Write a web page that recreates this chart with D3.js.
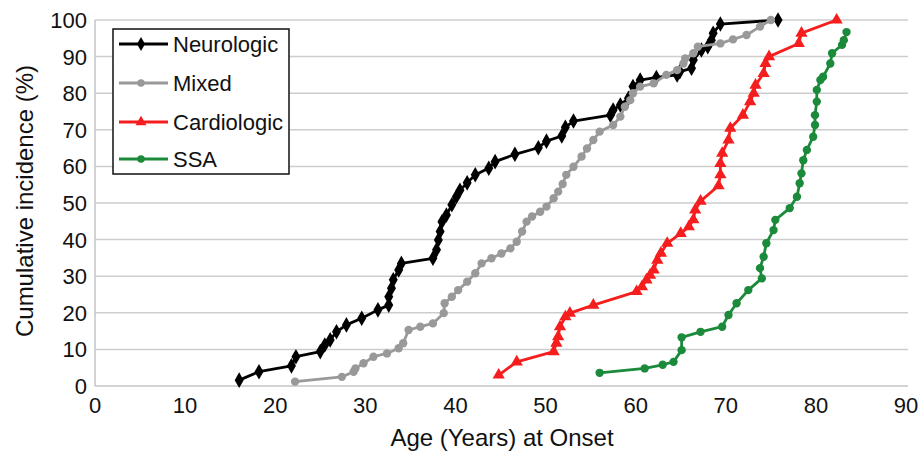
<!DOCTYPE html>
<html>
<head>
<meta charset="utf-8">
<script src="https://cdn.jsdelivr.net/npm/d3@7"></script>
<style>
  html, body { margin: 0; padding: 0; background: #fff; }
  svg { display: block; font-family: "Liberation Sans", Arial, Helvetica, sans-serif; }
</style>
</head>
<body>
<svg id="chart" width="923" height="452"></svg>
<script>
// ---- data (age at onset, cumulative incidence %) ----
const seriesNames = ["Neurologic", "Mixed", "Cardiologic", "SSA"];
const xTicks = [0, 10, 20, 30, 40, 50, 60, 70, 80, 90];
const yTicks = [0, 10, 20, 30, 40, 50, 60, 70, 80, 90, 100];

const neurologic = [
  [16.0, 1.6], [18.2, 3.9], [21.8, 5.5], [22.3, 8.0], [25.0, 9.4], [25.5, 11.2],
  [26.1, 12.6], [26.8, 14.8], [27.9, 16.7], [29.6, 18.5], [31.4, 20.8], [32.6, 22.1],
  [32.6, 24.4], [32.9, 26.7], [33.1, 29.0], [33.7, 31.7], [34.0, 33.5], [37.5, 34.9],
  [37.9, 37.2], [38.1, 39.9], [38.3, 42.2], [38.5, 44.9], [39.0, 46.7], [39.6, 49.5],
  [40.1, 51.7], [40.5, 53.5], [41.3, 55.5], [42.2, 57.7], [43.7, 59.5], [44.4, 61.3],
  [46.6, 63.3], [49.2, 65.1], [50.1, 66.9], [51.8, 68.3], [52.2, 70.7], [53.1, 72.4],
  [57.2, 74.0], [57.5, 75.4], [58.3, 76.8], [59.2, 78.6], [59.7, 81.8], [60.5, 83.6],
  [62.3, 84.3], [64.6, 85.0], [64.9, 85.9], [66.2, 86.8], [66.4, 89.1], [67.3, 91.8],
  [68.0, 92.7], [68.4, 94.5], [68.6, 96.4], [69.4, 98.9], [75.8, 100]
];

const mixed = [
  [22.2, 1.2], [27.4, 2.5], [28.7, 3.9], [28.9, 4.8], [29.8, 6.2], [30.9, 8.0],
  [32.4, 8.9], [33.7, 10.3], [34.2, 11.7], [34.8, 15.3], [36.1, 16.2], [37.5, 17.1],
  [38.7, 19.9], [38.8, 22.6], [39.6, 24.4], [40.3, 26.2], [41.3, 28.5], [42.2, 30.8],
  [42.9, 33.5], [44.0, 34.9], [45.1, 36.2], [46.1, 37.6], [46.8, 39.4], [47.4, 42.2],
  [47.9, 44.9], [48.5, 46.3], [49.4, 47.6], [50.1, 49.0], [50.9, 51.3], [51.4, 53.1],
  [51.9, 55.2], [52.3, 57.7], [53.1, 59.9], [54.0, 62.7], [54.6, 64.9], [55.3, 67.2],
  [56.0, 69.5], [57.5, 71.3], [58.3, 73.6], [58.8, 76.3], [59.4, 78.1], [59.7, 80.0],
  [60.5, 81.8], [62.0, 82.7], [63.4, 85.0], [64.6, 86.3], [65.3, 88.1], [65.5, 89.5],
  [66.4, 90.9], [66.9, 92.7], [69.4, 93.6], [70.8, 94.7], [72.3, 95.9], [73.8, 98.2],
  [75.0, 100]
];

const cardiologic = [
  [44.8, 3.0], [46.8, 6.6], [50.9, 9.4], [51.2, 11.7], [51.4, 13.5], [51.6, 16.2],
  [52.2, 18.9], [52.7, 19.9], [55.3, 22.1], [60.1, 25.8], [60.7, 27.1], [61.2, 29.0],
  [61.6, 30.3], [62.0, 31.7], [62.4, 34.4], [62.8, 36.3], [63.5, 39.0], [65.0, 41.7],
  [65.9, 43.5], [66.4, 45.4], [66.6, 48.1], [67.2, 50.5], [69.2, 54.7], [69.4, 57.7],
  [69.4, 60.8], [69.6, 63.6], [70.3, 67.2], [70.5, 70.4], [71.9, 74.0], [72.7, 77.7],
  [73.1, 80.0], [73.3, 82.2], [74.2, 85.4], [74.4, 88.1], [74.8, 90.0], [78.1, 93.6],
  [78.4, 96.4], [82.3, 100]
];

const ssa = [
  [56.0, 3.6], [61.0, 4.8], [63.0, 5.8], [64.2, 6.6], [65.1, 9.8], [65.1, 13.3],
  [67.2, 14.8], [69.6, 16.2], [70.3, 19.4], [71.2, 22.6], [72.5, 26.2], [74.0, 29.4],
  [73.8, 32.2], [74.2, 35.3], [74.5, 39.0], [75.3, 42.6], [75.5, 45.4], [77.1, 48.6],
  [77.9, 51.7], [78.2, 55.4], [78.4, 58.1], [78.6, 61.7], [79.0, 64.5], [79.7, 68.1],
  [79.9, 71.3], [79.9, 74.0], [80.1, 77.7], [80.1, 80.9], [80.5, 83.6], [80.8, 84.5],
  [81.6, 88.1], [81.8, 90.9], [82.9, 93.2], [83.1, 94.5], [83.4, 96.7]
];

// ---- chart ----
const svg = d3.select("#chart");
const x = d3.scaleLinear().domain([0, 90]).range([95, 906]);
const y = d3.scaleLinear().domain([0, 100]).range([386, 20]);

const styles = [
  { data: neurologic, color: "#000000", symbol: d3.symbolDiamond, size: 70 },
  { data: mixed, color: "#999999", symbol: d3.symbolCircle, size: 55 },
  { data: cardiologic, color: "#f51d1d", symbol: d3.symbolTriangle, size: 65 },
  { data: ssa, color: "#1b8a3a", symbol: d3.symbolCircle, size: 55 }
];

// gridlines
svg.append("g").selectAll("line").data(yTicks.filter(d => d > 0)).join("line")
  .attr("x1", x(0)).attr("x2", 908)
  .attr("y1", d => y(d)).attr("y2", d => y(d))
  .attr("stroke", "#cdcdcd").attr("stroke-width", 1.5);

// axis lines
svg.append("line").attr("x1", x(0)).attr("x2", 908).attr("y1", y(0)).attr("y2", y(0))
  .attr("stroke", "#c4c4c4").attr("stroke-width", 1.5);
svg.append("line").attr("x1", x(0)).attr("x2", x(0)).attr("y1", y(0)).attr("y2", y(100))
  .attr("stroke", "#c4c4c4").attr("stroke-width", 1.5);

// tick labels
svg.append("g").selectAll("text").data(yTicks).join("text")
  .attr("x", 87).attr("y", d => y(d)).attr("dy", "0.36em")
  .attr("text-anchor", "end").attr("font-size", 22).attr("fill", "#111")
  .text(d => d);
svg.append("g").selectAll("text").data(xTicks).join("text")
  .attr("x", d => x(d)).attr("y", 413)
  .attr("text-anchor", "middle").attr("font-size", 22).attr("fill", "#111")
  .text(d => d);

// axis titles
svg.append("text").attr("x", 502).attr("y", 446).attr("text-anchor", "middle")
  .attr("font-size", 24).attr("fill", "#111").text("Age (Years) at Onset");
svg.append("text").attr("transform", "translate(33,201) rotate(-90)")
  .attr("text-anchor", "middle").attr("font-size", 24).attr("fill", "#111")
  .text("Cumulative incidence (%)");

// series
const line = d3.line().x(d => x(d[0])).y(d => y(d[1]));
styles.forEach(s => {
  const g = svg.append("g");
  g.append("path").datum(s.data).attr("d", line)
    .attr("fill", "none").attr("stroke", s.color).attr("stroke-width", 2.8)
    .attr("stroke-linejoin", "round");
  g.selectAll("path.m").data(s.data).join("path").attr("class", "m")
    .attr("transform", d => `translate(${x(d[0])},${y(d[1])})`)
    .attr("d", d3.symbol().type(s.symbol).size(s.size))
    .attr("fill", s.color);
});

// legend
const legend = svg.append("g");
legend.append("rect").attr("x", 113).attr("y", 29).attr("width", 176).attr("height", 145)
  .attr("fill", "#fff").attr("stroke", "#111").attr("stroke-width", 1.5);
const legendY = [44, 83, 122, 159];
styles.forEach((s, i) => {
  const ly = legendY[i];
  legend.append("line").attr("x1", 119).attr("x2", 168).attr("y1", ly).attr("y2", ly)
    .attr("stroke", s.color).attr("stroke-width", 2.8);
  legend.append("path").attr("transform", `translate(141,${ly})`)
    .attr("d", d3.symbol().type(s.symbol).size(s.size * 0.8)).attr("fill", s.color);
  legend.append("text").attr("x", 173).attr("y", ly).attr("dy", "0.36em")
    .attr("font-size", 22).attr("fill", "#111").text(seriesNames[i]);
});
</script>
</body>
</html>
